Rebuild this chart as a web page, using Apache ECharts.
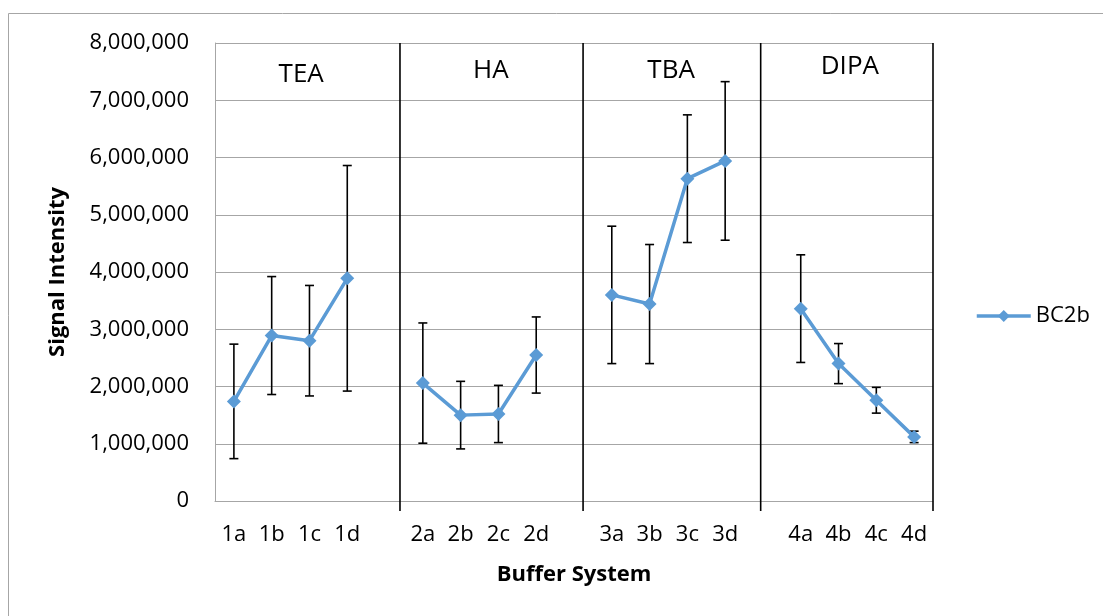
<!DOCTYPE html>
<html>
<head>
<meta charset="utf-8">
<script src="https://cdn.jsdelivr.net/npm/echarts@6/dist/echarts.min.js"></script>
<style>
html,body{margin:0;padding:0;background:#fff;}
#c{width:1103px;height:616px;}
</style>
</head>
<body>
<div id="c"></div>
<script>
// ---- data ----
var categories = ['1a','1b','1c','1d',' ','2a','2b','2c','2d','  ','3a','3b','3c','3d','   ','4a','4b','4c','4d'];
var seriesName = 'BC2b';
var meanValues = [1740000, 2890000, 2800000, 3890000, null, 2060000, 1500000, 1520000, 2550000, null, 3600000, 3440000, 5630000, 5940000, null, 3360000, 2400000, 1760000, 1120000];
var errorValues = [1000000, 1030000, 965000, 1970000, null, 1050000, 590000, 500000, 665000, null, 1200000, 1040000, 1115000, 1385000, null, 940000, 350000, 225000, 100000];
var groupNames = ['TEA', 'HA', 'TBA', 'DIPA'];
var yTicks = [0, 1000000, 2000000, 3000000, 4000000, 5000000, 6000000, 7000000, 8000000];

// ---- layout (positions of the drawn separators and group captions, in slot units) ----
var separatorAt = [4.895, 9.74, 14.44, 19];
var groupLabelAt = [[2.28, 7440000], [7.30, 7520000], [12.07, 7520000], [16.80, 7590000]];

var FONT = '"Open Sans", "Noto Sans", sans-serif';
var GRID_GRAY = '#a6a6a6';
var BLUE = '#5B9BD5';

var errData = [];
for (var i = 0; i < meanValues.length; i++) {
  if (meanValues[i] == null) continue;
  errData.push([i, meanValues[i] - errorValues[i], meanValues[i] + errorValues[i]]);
}
var sepData = separatorAt.map(function (x) { return [x, 0]; });
var labelData = groupLabelAt.map(function (p, k) { return [p[0], p[1], k]; });

function fmt(v) { return String(v).replace(/\B(?=(\d{3})+(?!\d))/g, ','); }

var chart = echarts.init(document.getElementById('c'), null, {renderer: 'canvas'});
chart.setOption({
  backgroundColor: '#fff',
  animation: false,
  textStyle: {fontFamily: FONT},
  graphic: [{
    type: 'rect', silent: true, z: -10,
    shape: {x: 8.5, y: 13.5, width: 1200, height: 700},
    style: {fill: null, stroke: GRID_GRAY, lineWidth: 1}
  }],
  grid: {left: 215, right: 170, top: 43, bottom: 115, containLabel: false, outerBoundsMode: 'none'},
  legend: {
    data: [seriesName],
    left: 975, top: 305, padding: 0,
    itemWidth: 54, itemHeight: 15,
    lineStyle: {width: 3.5, color: BLUE},
    textStyle: {fontFamily: FONT, fontSize: 22, color: '#000'}
  },
  xAxis: [{
    type: 'category',
    data: categories,
    boundaryGap: true,
    axisLine: {show: true, lineStyle: {color: GRID_GRAY, width: 1}},
    axisTick: {show: false},
    splitLine: {show: false},
    axisLabel: {interval: 0, fontFamily: FONT, fontSize: 22, color: '#000', margin: 23},
    name: 'Buffer System',
    nameLocation: 'middle',
    nameGap: 63,
    nameTextStyle: {fontFamily: FONT, fontSize: 22, fontWeight: 'bold', color: '#000'}
  }, {
    type: 'value', min: 0, max: categories.length, show: false
  }],
  yAxis: {
    type: 'value',
    min: yTicks[0], max: yTicks[yTicks.length - 1], interval: yTicks[1] - yTicks[0],
    axisLine: {show: true, lineStyle: {color: GRID_GRAY, width: 1}},
    axisTick: {show: false},
    splitLine: {show: true, lineStyle: {color: GRID_GRAY, width: 1}},
    axisLabel: {fontFamily: FONT, fontSize: 22, color: '#000', margin: 26, formatter: fmt},
    name: 'Signal Intensity',
    nameLocation: 'middle',
    nameRotate: 90,
    nameGap: 146,
    nameTextStyle: {fontFamily: FONT, fontSize: 22, fontWeight: 'bold', color: '#000'}
  },
  series: [{
    name: 'sep', type: 'custom', xAxisIndex: 1, z: 1, silent: true,
    data: sepData, encode: {x: 0, y: 1},
    renderItem: function (params, api) {
      var x = api.value(0);
      var top = api.coord([x, yTicks[yTicks.length - 1]]);
      var bot = api.coord([x, 0]);
      return {type: 'line', shape: {x1: top[0], y1: top[1], x2: bot[0], y2: bot[1] + 10},
              style: {stroke: '#000', lineWidth: 1.6}};
    }
  }, {
    name: 'groups', type: 'custom', xAxisIndex: 1, z: 1, silent: true,
    data: labelData, encode: {x: 0, y: 1},
    renderItem: function (params, api) {
      var p = api.coord([api.value(0), api.value(1)]);
      return {type: 'text', x: p[0], y: p[1],
              style: {text: groupNames[api.value(2)], fill: '#000', fontFamily: FONT, fontSize: 26,
                      align: 'center', verticalAlign: 'middle'}};
    }
  }, {
    name: 'err', type: 'custom', z: 2, silent: true,
    data: errData, encode: {x: 0, y: [1, 2]},
    renderItem: function (params, api) {
      var x = api.value(0);
      var lo = api.coord([x, api.value(1)]);
      var hi = api.coord([x, api.value(2)]);
      var hw = 4.5;
      var st = {stroke: '#000', lineWidth: 1.6};
      return {type: 'group', children: [
        {type: 'line', shape: {x1: hi[0], y1: hi[1], x2: lo[0], y2: lo[1]}, style: st},
        {type: 'line', shape: {x1: hi[0] - hw, y1: hi[1], x2: hi[0] + hw, y2: hi[1]}, style: st},
        {type: 'line', shape: {x1: lo[0] - hw, y1: lo[1], x2: lo[0] + hw, y2: lo[1]}, style: st}
      ]};
    }
  }, {
    name: seriesName, type: 'line', z: 5,
    data: meanValues,
    connectNulls: false,
    symbol: 'diamond', symbolSize: 14,
    itemStyle: {color: BLUE},
    lineStyle: {color: BLUE, width: 3.5},
    emphasis: {disabled: true}
  }]
});
</script>
</body>
</html>
